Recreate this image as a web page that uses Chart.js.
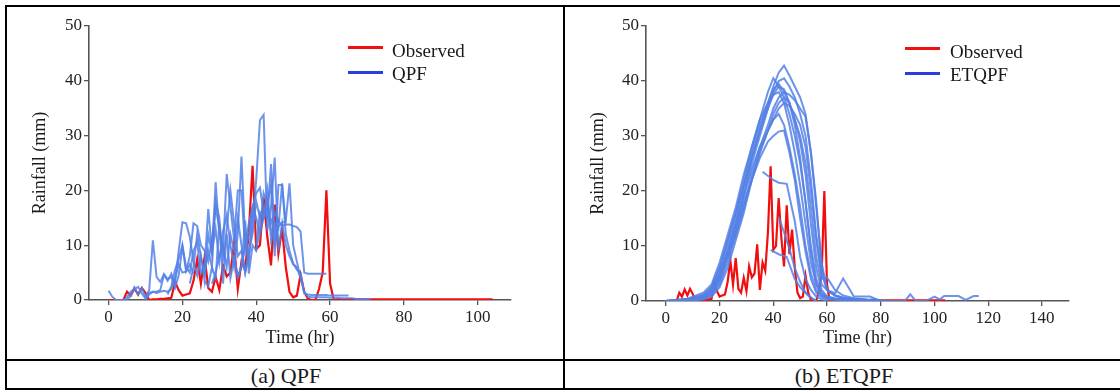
<!DOCTYPE html>
<html>
<head>
<meta charset="utf-8">
<script src="https://cdn.jsdelivr.net/npm/chart.js@4.4.1/dist/chart.umd.min.js"></script>
<style>
  body { margin:0; background:#fff; width:1120px; height:391px; overflow:hidden; position:relative;
         font-family:'Liberation Serif','Times New Roman',serif; color:#1a1a1a; }
  .rule { position:absolute; background:#000; }
  canvas { position:absolute; }
  .sw { position:absolute; width:35px; height:3px; }
  .lg { position:absolute; font-size:19px; line-height:20px; white-space:nowrap; }
  .cap { position:absolute; font-size:22px; line-height:24px; width:300px; text-align:center; }
</style>
</head>
<body>
<div class="rule" style="left:5px;top:5px;width:1120px;height:2px"></div>
<div class="rule" style="left:5px;top:359px;width:1120px;height:2px"></div>
<div class="rule" style="left:5px;top:388px;width:1120px;height:2px"></div>
<div class="rule" style="left:5px;top:5px;width:2px;height:385px"></div>
<div class="rule" style="left:563px;top:5px;width:2px;height:385px"></div>

<canvas id="qpfChart" style="left:8px;top:8px" width="550" height="350"></canvas>
<canvas id="etqpfChart" style="left:566px;top:8px" width="554" height="350"></canvas>

<div class="sw" style="left:348px;top:46px;background:#f01010"></div>
<div class="lg" style="left:392px;top:41px">Observed</div>
<div class="sw" style="left:348px;top:71px;background:#2a3ee0"></div>
<div class="lg" style="left:392px;top:64px">QPF</div>

<div class="sw" style="left:905px;top:47px;background:#f01010"></div>
<div class="lg" style="left:950px;top:42px">Observed</div>
<div class="sw" style="left:905px;top:72px;background:#2a3ee0"></div>
<div class="lg" style="left:950px;top:65px">ETQPF</div>

<div class="cap" style="left:136px;top:364px">(a) QPF</div>
<div class="cap" style="left:694px;top:364px">(b) ETQPF</div>

<script>
// observed hourly rainfall, hour = index
const observed = [
  0,0,0,0,0,1.5,0.8,2.1,1.0,2.2,1.3,0,0.1,0.1,0.2,0.2,0.3,0.4,3.3,1.8,
  0.8,1.0,1.2,3.5,7.4,3.0,7.8,2.2,1.5,4.2,1.8,6.3,4.3,5.0,10.3,2.0,7.0,5.5,12.5,24.5,
  9.3,10.0,18.7,11.5,6.3,17.4,8.5,13.0,6.0,1.5,0.5,0.8,4.6,1.5,0.2,0,0,2.0,5.0,20.0,
  3.0,0,0.1,0.1,0.1,0.1,0.1,0.1,0.1,0.1,0.1,0.1,0.1,0.1,0.1,0.1,0.1,0.1,0.1,0.1,
  0.1,0.1,0.1,0.1,0.1,0.1,0.1,0.1,0.1,0.1,0.1,0.1,0.1,0.1,0.1,0.1,0.1,0.1,0.1,0.1,
  0.1,0.1,0.1,0.1,0.1
];

// QPF runs: first hour of each run, then hourly values
const qpfStartHours = [0, 4, 10, 16, 22, 28, 34, 40, 26];
const qpfValues = [
  [1.7,0.6,0,0,0,0,0.8,2.3,1.0,2.2,0.6,1.8,10.9,4.2,3.3,4.7,3.8,4.2,2.2,4.5,9.8,5.2,6.5,4.8],
  [0,0.5,1.5,2.0,2.4,1.2,0.3,1.3,1.5,1.5,1.8,4.6,3.5,4.8,3.0,9.0,14.2,14.0,11.5,7.0,4.5,8.0,3.5,12.0,8.5,21.5,12.0],
  [0,1.0,1.5,1.3,1.5,1.7,1.5,2.0,4.0,6.5,5.0,5.2,8.0,14.0,13.5,10.0,9.0,7.0,11.0,17.0,13.0,9.0,23.0,17.0,11.0,20.0,20.0,9.0,12.0,16.0,14.5],
  [1.0,2.5,5.5,7.5,10.0,6.0,5.0,9.0,10.5,5.0,6.0,16.6,9.0,13.0,7.0,12.5,15.5,10.0,6.0,12.0,26.2,11.0,7.0,17.0,19.5,20.5,16.0,15.0,24.8,12.0,15.0],
  [3.0,6.0,12.0,8.0,5.0,9.0,6.0,18.0,15.0,7.0,13.0,20.0,14.0,8.0,9.0,5.0,8.0,14.0,22.0,32.8,33.8,12.6,17.0,26.0,9.0,14.0,10.0,8.0,6.5,6.0,4.0],
  [3.0,5.0,8.0,10.0,6.0,12.0,9.0,15.0,10.0,5.0,9.0,12.0,18.0,15.0,16.0,18.0,14.0,16.0,14.5,13.5,13.8,13.8,13.5,13.3,12.5,5.0,4.8,4.8,4.8,4.8,4.8,4.8],
  [8.0,4.0,6.0,10.0,14.0,17.0,15.0,12.0,15.0,20.0,11.0,14.0,13.0,21.3,12.0,9.0,6.7,5.5,5.0,1.2,1.0,0.9,0.9,0.9,0.9,0.9,0.8,0.8,0.8,0.8,0.8,0.8],
  [10.0,16.0,15.0,17.0,13.0,10.0,13.5,14.0,14.5,21.3,10.0,7.0,4.0,1.5,0.6,0.5,0.5,0.5,0.5,0.5,0.4,0.4,0.4,0.3,0.3,0.3,0.3,0.2,0.2,0.2,0.2,0.2],
  [3.5,2.5,6.0,4.0,14.0,3.0,12.0,4.0,7.5,4.5,6.0,14.5,4.8,10.0,9.0,13.0,19.5,17.5,21.0,8.0,21.0,21.0,14.0]
];

// ETQPF members on a common hour grid
const etqpfHours = [0,8,14,17,20,23,26,29,32,35,38,40,42,44,46,48,50,52,54,56,58,60,63,66,70,76,80];
const etqpfValues = [
  [0,0.2,0.8,1.5,4,9,14,20,26,31,36,39,41.5,42.8,41,39,37,34,27,17,7,2,1,0.6,0.4,0.2,0],
  [0,0.3,1,2.5,6,11,16,22,28,33,38,40.5,39,37,34,30,25,18,10,4,1.5,0.8,0.5,0.3,0.2,0.1,0],
  [0,0.1,0.5,1.2,3.5,8,13,19,25,30,35,38,40,40.5,39,37,34,30,22,12,5,2,1,0.5,0.3,0.1,0],
  [0,0.2,0.8,2,5,10,15,21,27,32,36,38.5,39.5,38,36,33,29,23,14,6,2,0.8,0.4,0.2,0.1,0,0],
  [0,0.4,1.5,3,7,12,17,23,28,33,36,37.5,38,36,32,27,21,14,7,3,1.2,0.6,0.3,0.2,0,0,0],
  [0,0,0.3,0.8,2.5,6,11,16,22,27,31,33,35,36,35.5,34,32,28,20,11,4,4.3,2,1,0.5,0.2,0],
  [0,0.3,1,2,5,9,14,19,24,28,31,33,34,32,28,23,17,10,5,2,1,0.5,0.3,0.2,0,0,0],
  [0,0.2,0.8,1.8,4.5,8.5,13,18,22,26,29,30,30.8,31,27,22,15,9,4,1.5,0.6,0.3,0.2,0,0,0,0],
  [0,0.3,1.2,2.5,6,11,16,21,26,31,35,37.5,39,38.5,36,32,26,18,9,3,1,0.5,0.3,0.2,0.1,0,0],
  [0,0.1,0.6,1.5,4,8,12,17,22,27,31,34,36,37,36,33,30,25,17,8,3,2,1.4,4.1,0.8,0.8,0],
  [0,0,0.4,1,3,7,12,17,23,28,32,35,37,38,37.5,36.5,35,33.5,27,18,6,2,1,0.6,0.4,0.2,0]
];
// shorter, later-starting members
const etqpfLateHours = [
  [36,40,42,45,48,50,52,54,56,58,60],
  [42,44,46,48,50,52,54,56],
  [39,42,45,48,50,53,56]
];
const etqpfLateValues = [
  [23.5,22,21.5,21.3,14.5,8,4,2,0.8,0.3,0],
  [15.3,12.5,9.5,6,3.5,1.5,0.6,0],
  [9.3,8.5,8,4,2.5,1,0]
];
const etqpfTailHours = [76,84,89,91,93,97,98,100,102,103.6,109,111.6,114.6,116.5];
const etqpfTailValues = [0.3,0,0,1.2,0,0,0.3,0.8,0.3,0.9,0.9,0.2,0.9,0.9];

const qpfTicks = [0,20,40,60,80,100];
const etqpfTicks = [0,20,40,60,80,100,120,140];

const RED = 'rgb(240,14,14)';
const BLUE = 'rgba(84,128,230,0.85)';
const FONT = "'Liberation Serif','Times New Roman',serif";

function line(points, color, width) {
  return { data: points, borderColor: color, borderWidth: width, pointRadius: 0, fill: false, tension: 0 };
}

function buildOptions(xMin, xMax, xTicks, yWidth, padRight, xHeight) {
  const axisCol = '#555';
  return {
    animation: false,
    responsive: false,
    parsing: false,
    layout: { padding: { left: 0, right: padRight, top: 18, bottom: 0 } },
    plugins: { legend: { display: false }, tooltip: { enabled: false } },
    scales: {
      x: {
        type: 'linear', min: xMin, max: xMax,
        afterBuildTicks: s => { s.ticks = xTicks.map(v => ({ value: v })); },
        afterFit: s => { s.height = xHeight; },
        ticks: { font: { family: FONT, size: 17 }, color: '#222', padding: 2, maxRotation: 0 },
        grid: { drawOnChartArea: false, drawTicks: true, tickLength: 5, color: axisCol, lineWidth: 1.3 },
        border: { display: true, color: axisCol, width: 1.6 },
        title: { display: true, text: 'Time (hr)', font: { family: FONT, size: 18 }, color: '#1a1a1a', padding: { top: 0, bottom: 9 } }
      },
      y: {
        min: 0, max: 50,
        afterFit: s => { s.width = yWidth; },
        ticks: { stepSize: 10, font: { family: FONT, size: 17 }, color: '#222', padding: 2 },
        grid: { drawOnChartArea: false, drawTicks: true, tickLength: 5, color: axisCol, lineWidth: 1.3 },
        border: { display: true, color: axisCol, width: 1.6 },
        title: { display: true, text: 'Rainfall (mm)', font: { family: FONT, size: 18 }, color: '#1a1a1a', padding: { top: 21, bottom: 0 } }
      }
    }
  };
}

const obsPoints = observed.map((v, i) => ({ x: i, y: v }));

const qpfSets = qpfValues.map((vals, k) =>
  line(vals.map((v, i) => ({ x: qpfStartHours[k] + i, y: v })), BLUE, 2));
qpfSets.push(line(obsPoints, RED, 2.2));

new Chart(document.getElementById('qpfChart'), {
  type: 'line',
  data: { datasets: qpfSets },
  options: buildOptions(-5.3, 109, qpfTicks, 81, 47, 58)
});

const etSets = etqpfValues.map(vals =>
  line(vals.map((v, i) => ({ x: etqpfHours[i], y: v })), BLUE, 2));
etqpfLateValues.forEach((vals, k) =>
  etSets.push(line(vals.map((v, i) => ({ x: etqpfLateHours[k][i], y: v })), BLUE, 2)));
etSets.push(line(etqpfTailHours.map((h, i) => ({ x: h, y: etqpfTailValues[i] })), BLUE, 2));
etSets.push(line(obsPoints, RED, 2.2));

new Chart(document.getElementById('etqpfChart'), {
  type: 'line',
  data: { datasets: etSets },
  options: buildOptions(-7.4, 150.1, etqpfTicks, 80, 51, 57)
});
</script>
</body>
</html>
